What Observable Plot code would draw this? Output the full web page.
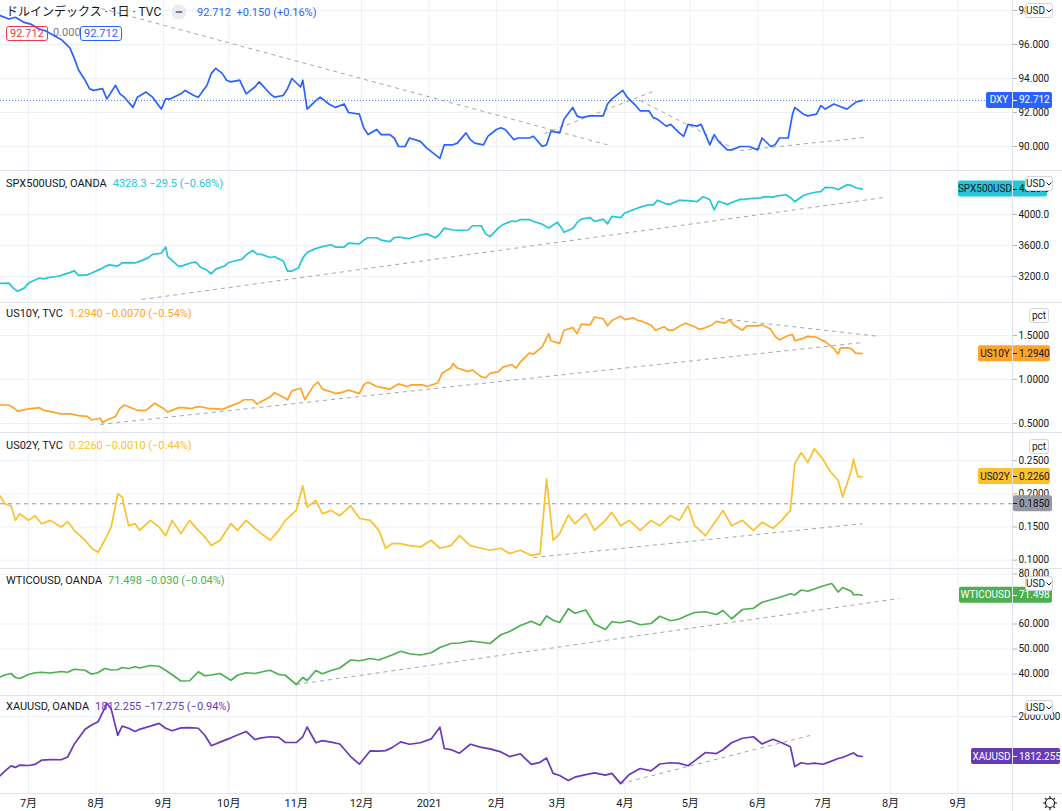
<!DOCTYPE html>
<html><head><meta charset="utf-8">
<script src="https://cdn.jsdelivr.net/npm/d3@7"></script>
<script src="https://cdn.jsdelivr.net/npm/@observablehq/plot@0.6"></script>
<style>
body{margin:0;background:#fff;font-family:Roboto,"Noto Sans CJK JP",sans-serif;}
#root{position:relative;width:1062px;height:811px;overflow:hidden;background:#fff;}
.abs{position:absolute;}
.hdr{position:absolute;left:6px;font-size:11px;line-height:14px;color:#131722;white-space:nowrap;}
.hdr span{margin-left:6px;}
.btn{position:absolute;background:#fff;border:1px solid #d1d4dc;border-radius:3px;font-size:10px;line-height:13px;color:#131722;text-align:center;box-sizing:border-box;}
.sep{position:absolute;left:0;width:1062px;height:1px;background:#e0e3eb;}
.box{position:absolute;top:26px;height:15px;box-sizing:border-box;border:1px solid;border-radius:3px;font-size:11px;line-height:13px;padding:0 3px;}
</style></head><body><div id="root"></div><script>
// ---------- DATA ----------
const monthTicks = ["2020-07-01","2020-08-01","2020-09-01","2020-10-01","2020-11-01","2020-12-01","2021-01-01","2021-02-01","2021-03-01","2021-04-01","2021-05-01","2021-06-01","2021-07-01","2021-08-01","2021-09-01"];
const monthLabels = ["7月","8月","9月","10月","11月","12月","2021","2月","3月","4月","5月","6月","7月","8月","9月"];

const dxyData = [["2020-06-18",97.7],["2020-06-22",97.5],["2020-06-25",97.6],["2020-06-29",97.3],["2020-07-02",97.2],["2020-07-06",96.9],["2020-07-09",96.8],["2020-07-13",96.5],["2020-07-16",96.3],["2020-07-20",95.8],["2020-07-22",95.2],["2020-07-24",94.5],["2020-07-27",93.9],["2020-07-29",93.4],["2020-07-31",93.3],["2020-08-04",93.4],["2020-08-06",92.8],["2020-08-10",93.6],["2020-08-12",93.1],["2020-08-14",92.9],["2020-08-18",92.3],["2020-08-20",92.9],["2020-08-24",93.2],["2020-08-27",92.9],["2020-08-31",92.2],["2020-09-02",92.8],["2020-09-04",92.8],["2020-09-09",93.1],["2020-09-11",93.3],["2020-09-15",93.0],["2020-09-17",92.9],["2020-09-21",93.6],["2020-09-23",94.3],["2020-09-25",94.6],["2020-09-28",94.3],["2020-09-30",93.9],["2020-10-02",93.8],["2020-10-06",93.9],["2020-10-09",93.1],["2020-10-13",93.5],["2020-10-15",93.8],["2020-10-20",93.1],["2020-10-22",92.9],["2020-10-26",93.0],["2020-10-28",93.4],["2020-10-30",94.0],["2020-11-03",93.5],["2020-11-04",93.9],["2020-11-06",92.2],["2020-11-10",92.7],["2020-11-12",92.9],["2020-11-16",92.5],["2020-11-19",92.3],["2020-11-23",92.5],["2020-11-25",92.0],["2020-11-30",91.9],["2020-12-02",91.1],["2020-12-04",90.7],["2020-12-08",91.0],["2020-12-10",90.7],["2020-12-14",90.7],["2020-12-16",90.5],["2020-12-18",90.0],["2020-12-21",90.0],["2020-12-23",90.5],["2020-12-28",90.3],["2020-12-31",89.9],["2021-01-05",89.4],["2021-01-06",89.3],["2021-01-08",90.1],["2021-01-12",90.1],["2021-01-14",90.2],["2021-01-18",90.8],["2021-01-20",90.4],["2021-01-22",90.2],["2021-01-26",90.1],["2021-01-28",90.6],["2021-02-01",91.0],["2021-02-03",91.1],["2021-02-05",91.0],["2021-02-09",90.4],["2021-02-11",90.5],["2021-02-16",90.5],["2021-02-18",90.6],["2021-02-22",90.0],["2021-02-24",90.1],["2021-02-26",90.9],["2021-03-02",90.8],["2021-03-04",91.6],["2021-03-08",92.3],["2021-03-10",91.8],["2021-03-12",91.7],["2021-03-16",91.8],["2021-03-18",91.8],["2021-03-22",91.8],["2021-03-24",92.5],["2021-03-26",92.8],["2021-03-30",93.2],["2021-03-31",93.3],["2021-04-02",92.9],["2021-04-06",92.4],["2021-04-08",92.1],["2021-04-12",92.1],["2021-04-14",91.7],["2021-04-16",91.6],["2021-04-20",91.2],["2021-04-22",91.3],["2021-04-26",90.8],["2021-04-28",90.6],["2021-04-30",91.3],["2021-05-04",91.2],["2021-05-06",91.3],["2021-05-10",90.1],["2021-05-12",90.7],["2021-05-14",90.3],["2021-05-18",89.8],["2021-05-20",89.8],["2021-05-24",90.0],["2021-05-26",90.0],["2021-05-28",90.0],["2021-06-01",89.8],["2021-06-03",90.5],["2021-06-07",90.0],["2021-06-09",90.1],["2021-06-11",90.5],["2021-06-15",90.5],["2021-06-17",91.9],["2021-06-18",92.3],["2021-06-22",91.9],["2021-06-24",91.8],["2021-06-28",91.9],["2021-06-30",92.4],["2021-07-02",92.2],["2021-07-06",92.5],["2021-07-08",92.4],["2021-07-12",92.2],["2021-07-14",92.4],["2021-07-16",92.6],["2021-07-19",92.712]];

const spxData = [["2020-06-18",3110],["2020-06-22",3115],["2020-06-24",3050],["2020-06-26",3010],["2020-06-29",3050],["2020-07-01",3115],["2020-07-06",3180],["2020-07-08",3170],["2020-07-10",3185],["2020-07-14",3200],["2020-07-16",3215],["2020-07-20",3250],["2020-07-22",3275],["2020-07-24",3215],["2020-07-28",3220],["2020-07-30",3245],["2020-08-03",3295],["2020-08-05",3325],["2020-08-07",3350],["2020-08-11",3335],["2020-08-13",3375],["2020-08-17",3380],["2020-08-19",3375],["2020-08-21",3395],["2020-08-25",3440],["2020-08-27",3485],["2020-08-31",3500],["2020-09-02",3580],["2020-09-03",3455],["2020-09-08",3330],["2020-09-10",3340],["2020-09-14",3380],["2020-09-16",3385],["2020-09-18",3320],["2020-09-21",3280],["2020-09-23",3235],["2020-09-25",3295],["2020-09-29",3335],["2020-10-01",3380],["2020-10-05",3410],["2020-10-07",3420],["2020-10-09",3480],["2020-10-12",3535],["2020-10-14",3490],["2020-10-16",3485],["2020-10-20",3445],["2020-10-22",3455],["2020-10-26",3400],["2020-10-28",3270],["2020-10-30",3270],["2020-11-02",3310],["2020-11-04",3440],["2020-11-06",3510],["2020-11-09",3550],["2020-11-11",3570],["2020-11-13",3585],["2020-11-17",3610],["2020-11-19",3580],["2020-11-23",3580],["2020-11-25",3630],["2020-11-30",3620],["2020-12-02",3670],["2020-12-04",3700],["2020-12-08",3700],["2020-12-10",3670],["2020-12-14",3650],["2020-12-16",3700],["2020-12-18",3710],["2020-12-21",3695],["2020-12-23",3690],["2020-12-28",3735],["2020-12-31",3750],["2021-01-04",3700],["2021-01-06",3750],["2021-01-08",3825],["2021-01-12",3800],["2021-01-14",3795],["2021-01-19",3800],["2021-01-21",3855],["2021-01-25",3855],["2021-01-27",3750],["2021-01-29",3715],["2021-02-02",3830],["2021-02-04",3870],["2021-02-08",3915],["2021-02-10",3910],["2021-02-12",3935],["2021-02-16",3935],["2021-02-18",3910],["2021-02-22",3875],["2021-02-25",3825],["2021-03-01",3900],["2021-03-03",3820],["2021-03-04",3770],["2021-03-08",3820],["2021-03-10",3895],["2021-03-12",3940],["2021-03-16",3960],["2021-03-18",3910],["2021-03-22",3940],["2021-03-24",3880],["2021-03-26",3975],["2021-03-30",3960],["2021-04-01",4020],["2021-04-06",4075],["2021-04-08",4095],["2021-04-12",4125],["2021-04-14",4125],["2021-04-16",4185],["2021-04-20",4135],["2021-04-22",4135],["2021-04-26",4185],["2021-04-28",4180],["2021-04-30",4180],["2021-05-04",4165],["2021-05-07",4230],["2021-05-10",4190],["2021-05-12",4060],["2021-05-14",4170],["2021-05-18",4130],["2021-05-20",4155],["2021-05-24",4195],["2021-05-26",4195],["2021-05-28",4205],["2021-06-02",4210],["2021-06-04",4230],["2021-06-08",4225],["2021-06-10",4240],["2021-06-14",4255],["2021-06-16",4220],["2021-06-18",4165],["2021-06-22",4245],["2021-06-24",4265],["2021-06-28",4290],["2021-06-30",4295],["2021-07-02",4350],["2021-07-06",4345],["2021-07-08",4320],["2021-07-12",4385],["2021-07-14",4375],["2021-07-16",4345],["2021-07-19",4328.3]];

const us10Data = [["2020-06-18",0.71],["2020-06-22",0.71],["2020-06-24",0.68],["2020-06-26",0.64],["2020-06-30",0.66],["2020-07-02",0.67],["2020-07-06",0.68],["2020-07-08",0.65],["2020-07-10",0.64],["2020-07-14",0.62],["2020-07-16",0.61],["2020-07-20",0.61],["2020-07-22",0.60],["2020-07-24",0.59],["2020-07-28",0.58],["2020-07-30",0.54],["2020-08-03",0.56],["2020-08-04",0.51],["2020-08-06",0.54],["2020-08-10",0.58],["2020-08-12",0.67],["2020-08-14",0.71],["2020-08-18",0.67],["2020-08-20",0.65],["2020-08-24",0.65],["2020-08-26",0.69],["2020-08-28",0.73],["2020-09-01",0.67],["2020-09-03",0.63],["2020-09-08",0.68],["2020-09-10",0.68],["2020-09-14",0.67],["2020-09-16",0.69],["2020-09-18",0.69],["2020-09-22",0.67],["2020-09-24",0.67],["2020-09-28",0.66],["2020-09-30",0.68],["2020-10-02",0.70],["2020-10-06",0.74],["2020-10-08",0.77],["2020-10-12",0.77],["2020-10-14",0.72],["2020-10-16",0.75],["2020-10-20",0.80],["2020-10-22",0.85],["2020-10-26",0.80],["2020-10-28",0.77],["2020-10-30",0.87],["2020-11-03",0.90],["2020-11-05",0.77],["2020-11-09",0.93],["2020-11-11",0.97],["2020-11-13",0.89],["2020-11-17",0.86],["2020-11-19",0.84],["2020-11-23",0.86],["2020-11-25",0.88],["2020-11-30",0.84],["2020-12-02",0.94],["2020-12-04",0.97],["2020-12-08",0.92],["2020-12-10",0.91],["2020-12-14",0.89],["2020-12-16",0.92],["2020-12-18",0.95],["2020-12-22",0.92],["2020-12-24",0.94],["2020-12-29",0.94],["2020-12-31",0.92],["2021-01-05",0.96],["2021-01-07",1.07],["2021-01-11",1.13],["2021-01-12",1.18],["2021-01-14",1.13],["2021-01-19",1.09],["2021-01-21",1.11],["2021-01-25",1.03],["2021-01-27",1.02],["2021-01-29",1.07],["2021-02-02",1.09],["2021-02-04",1.14],["2021-02-08",1.17],["2021-02-10",1.13],["2021-02-12",1.20],["2021-02-16",1.30],["2021-02-18",1.29],["2021-02-22",1.37],["2021-02-25",1.52],["2021-02-26",1.44],["2021-03-02",1.41],["2021-03-04",1.56],["2021-03-08",1.59],["2021-03-10",1.52],["2021-03-12",1.63],["2021-03-16",1.62],["2021-03-18",1.71],["2021-03-22",1.69],["2021-03-24",1.61],["2021-03-26",1.67],["2021-03-30",1.72],["2021-04-01",1.68],["2021-04-05",1.70],["2021-04-07",1.67],["2021-04-09",1.66],["2021-04-13",1.62],["2021-04-15",1.56],["2021-04-19",1.60],["2021-04-21",1.56],["2021-04-23",1.56],["2021-04-27",1.62],["2021-04-29",1.64],["2021-05-03",1.60],["2021-05-05",1.57],["2021-05-07",1.58],["2021-05-11",1.62],["2021-05-13",1.66],["2021-05-17",1.64],["2021-05-19",1.68],["2021-05-21",1.62],["2021-05-25",1.56],["2021-05-27",1.61],["2021-06-01",1.61],["2021-06-03",1.62],["2021-06-07",1.57],["2021-06-09",1.49],["2021-06-11",1.45],["2021-06-15",1.50],["2021-06-17",1.51],["2021-06-18",1.44],["2021-06-22",1.47],["2021-06-24",1.49],["2021-06-28",1.48],["2021-06-30",1.45],["2021-07-02",1.43],["2021-07-06",1.35],["2021-07-08",1.29],["2021-07-09",1.36],["2021-07-12",1.36],["2021-07-14",1.35],["2021-07-16",1.30],["2021-07-19",1.294]];

const us02Data = [["2020-06-18",0.197],["2020-06-20",0.185],["2020-06-23",0.182],["2020-06-25",0.160],["2020-06-27",0.170],["2020-07-01",0.160],["2020-07-04",0.167],["2020-07-07",0.155],["2020-07-11",0.160],["2020-07-16",0.150],["2020-07-19",0.158],["2020-07-22",0.145],["2020-07-27",0.130],["2020-07-30",0.118],["2020-08-02",0.112],["2020-08-05",0.130],["2020-08-08",0.150],["2020-08-11",0.200],["2020-08-13",0.195],["2020-08-16",0.152],["2020-08-19",0.155],["2020-08-21",0.145],["2020-08-26",0.160],["2020-08-30",0.150],["2020-09-02",0.137],["2020-09-05",0.160],["2020-09-09",0.140],["2020-09-13",0.160],["2020-09-17",0.145],["2020-09-20",0.135],["2020-09-23",0.122],["2020-09-27",0.130],["2020-10-02",0.155],["2020-10-05",0.145],["2020-10-09",0.160],["2020-10-13",0.148],["2020-10-16",0.140],["2020-10-20",0.130],["2020-10-24",0.145],["2020-10-27",0.160],["2020-11-01",0.175],["2020-11-04",0.212],["2020-11-06",0.180],["2020-11-10",0.190],["2020-11-13",0.170],["2020-11-17",0.175],["2020-11-21",0.167],["2020-11-26",0.182],["2020-11-30",0.163],["2020-12-05",0.160],["2020-12-09",0.145],["2020-12-12",0.118],["2020-12-15",0.125],["2020-12-19",0.125],["2020-12-23",0.122],["2020-12-28",0.120],["2021-01-02",0.130],["2021-01-06",0.118],["2021-01-11",0.122],["2021-01-15",0.137],["2021-01-20",0.122],["2021-01-25",0.118],["2021-01-29",0.115],["2021-02-03",0.118],["2021-02-07",0.110],["2021-02-12",0.115],["2021-02-17",0.107],["2021-02-21",0.110],["2021-02-24",0.222],["2021-02-27",0.130],["2021-03-02",0.140],["2021-03-06",0.168],["2021-03-09",0.155],["2021-03-14",0.170],["2021-03-18",0.145],["2021-03-23",0.160],["2021-03-26",0.172],["2021-03-30",0.152],["2021-04-03",0.160],["2021-04-08",0.145],["2021-04-13",0.160],["2021-04-17",0.152],["2021-04-22",0.167],["2021-04-26",0.160],["2021-04-30",0.182],["2021-05-03",0.152],["2021-05-08",0.137],["2021-05-13",0.160],["2021-05-16",0.175],["2021-05-20",0.152],["2021-05-25",0.160],["2021-05-30",0.145],["2021-06-03",0.157],["2021-06-08",0.148],["2021-06-12",0.160],["2021-06-16",0.175],["2021-06-18",0.245],["2021-06-21",0.262],["2021-06-24",0.247],["2021-06-27",0.268],["2021-07-01",0.252],["2021-07-04",0.235],["2021-07-08",0.220],["2021-07-10",0.195],["2021-07-14",0.235],["2021-07-15",0.252],["2021-07-17",0.226],["2021-07-19",0.226]];

const wtiData = [["2020-06-18",38.8],["2020-06-20",39.6],["2020-06-23",40.2],["2020-06-25",38.6],["2020-06-27",38.2],["2020-07-01",39.8],["2020-07-04",40.5],["2020-07-07",40.7],["2020-07-11",40.4],["2020-07-16",41.0],["2020-07-19",40.7],["2020-07-22",41.9],["2020-07-27",41.5],["2020-07-30",39.9],["2020-08-02",40.6],["2020-08-05",42.2],["2020-08-08",41.6],["2020-08-11",41.7],["2020-08-13",42.6],["2020-08-16",42.2],["2020-08-19",42.9],["2020-08-21",42.4],["2020-08-26",43.4],["2020-08-30",43.1],["2020-09-02",41.5],["2020-09-05",39.7],["2020-09-09",37.2],["2020-09-13",37.3],["2020-09-17",40.9],["2020-09-20",39.3],["2020-09-23",39.6],["2020-09-27",40.2],["2020-10-02",37.5],["2020-10-05",39.5],["2020-10-09",40.5],["2020-10-13",40.2],["2020-10-16",40.8],["2020-10-20",41.5],["2020-10-24",39.8],["2020-10-27",39.5],["2020-11-01",35.8],["2020-11-04",38.6],["2020-11-06",37.4],["2020-11-10",41.4],["2020-11-13",40.1],["2020-11-17",41.4],["2020-11-21",42.4],["2020-11-26",45.6],["2020-11-30",45.3],["2020-12-05",46.2],["2020-12-09",45.6],["2020-12-12",46.6],["2020-12-15",47.6],["2020-12-19",49.1],["2020-12-23",48.1],["2020-12-28",47.6],["2021-01-02",48.5],["2021-01-06",50.6],["2021-01-11",52.2],["2021-01-15",52.4],["2021-01-20",53.2],["2021-01-25",52.7],["2021-01-29",52.2],["2021-02-03",55.7],["2021-02-07",57.0],["2021-02-12",59.4],["2021-02-17",61.1],["2021-02-21",59.5],["2021-02-24",63.2],["2021-02-27",61.5],["2021-03-02",60.6],["2021-03-06",66.1],["2021-03-09",64.3],["2021-03-14",65.6],["2021-03-18",60.0],["2021-03-23",57.8],["2021-03-26",60.9],["2021-03-30",60.5],["2021-04-03",61.3],["2021-04-08",59.7],["2021-04-13",60.2],["2021-04-17",63.1],["2021-04-22",61.3],["2021-04-26",62.0],["2021-04-30",63.6],["2021-05-03",64.6],["2021-05-08",64.9],["2021-05-13",63.8],["2021-05-16",65.4],["2021-05-20",62.1],["2021-05-25",65.8],["2021-05-30",66.3],["2021-06-03",68.7],["2021-06-08",69.9],["2021-06-12",70.9],["2021-06-16",72.1],["2021-06-18",71.6],["2021-06-21",73.6],["2021-06-24",73.1],["2021-06-27",74.0],["2021-07-01",75.2],["2021-07-05",76.2],["2021-07-08",72.8],["2021-07-10",74.6],["2021-07-14",73.1],["2021-07-15",71.7],["2021-07-17",71.8],["2021-07-19",71.498]];

const xauData = [["2020-06-18",1722],["2020-06-20",1742],["2020-06-23",1768],["2020-06-25",1761],["2020-06-27",1772],["2020-07-01",1770],["2020-07-04",1775],["2020-07-07",1795],["2020-07-11",1798],["2020-07-16",1797],["2020-07-19",1810],["2020-07-22",1870],["2020-07-27",1940],["2020-07-30",1960],["2020-08-02",1976],["2020-08-05",2040],["2020-08-06",2063],["2020-08-08",2035],["2020-08-11",1912],["2020-08-13",1955],["2020-08-16",1945],["2020-08-19",1930],["2020-08-21",1940],["2020-08-26",1955],["2020-08-30",1968],["2020-09-02",1945],["2020-09-05",1933],["2020-09-09",1947],["2020-09-13",1948],["2020-09-17",1945],["2020-09-20",1912],["2020-09-23",1863],["2020-09-27",1880],["2020-10-02",1900],["2020-10-05",1913],["2020-10-09",1930],["2020-10-13",1892],["2020-10-16",1900],["2020-10-20",1905],["2020-10-24",1902],["2020-10-27",1878],["2020-11-01",1878],["2020-11-04",1905],["2020-11-06",1951],["2020-11-10",1877],["2020-11-13",1887],["2020-11-17",1880],["2020-11-21",1871],["2020-11-26",1812],["2020-11-30",1776],["2020-12-05",1839],["2020-12-09",1838],["2020-12-12",1840],["2020-12-15",1854],["2020-12-19",1881],["2020-12-23",1870],["2020-12-28",1877],["2021-01-02",1895],["2021-01-06",1950],["2021-01-08",1850],["2021-01-11",1845],["2021-01-15",1828],["2021-01-20",1870],["2021-01-25",1855],["2021-01-29",1848],["2021-02-03",1834],["2021-02-07",1812],["2021-02-12",1825],["2021-02-17",1775],["2021-02-21",1785],["2021-02-24",1805],["2021-02-27",1733],["2021-03-02",1723],["2021-03-06",1700],["2021-03-09",1715],["2021-03-14",1727],["2021-03-18",1735],["2021-03-23",1725],["2021-03-26",1733],["2021-03-30",1685],["2021-04-03",1728],["2021-04-08",1756],["2021-04-13",1745],["2021-04-17",1777],["2021-04-22",1783],["2021-04-26",1780],["2021-04-30",1769],["2021-05-03",1792],["2021-05-08",1831],["2021-05-13",1826],["2021-05-16",1844],["2021-05-20",1877],["2021-05-25",1898],["2021-05-30",1905],["2021-06-03",1871],["2021-06-08",1893],["2021-06-12",1877],["2021-06-16",1858],["2021-06-18",1765],["2021-06-21",1783],["2021-06-24",1777],["2021-06-27",1781],["2021-07-01",1776],["2021-07-04",1787],["2021-07-08",1803],["2021-07-10",1808],["2021-07-14",1825],["2021-07-15",1829],["2021-07-17",1815],["2021-07-19",1812.255]];

// trend lines: [date1, value1, date2, value2]
const dxyTrends = [["2020-07-31",98.24,"2021-03-25",90.06],["2021-02-23",90.76,"2021-04-15",93.29],["2021-04-08",92.71,"2021-05-21",89.88],["2021-05-24",89.76,"2021-07-20",90.53]];
const spxTrends = [["2020-08-22",2903,"2021-07-29",4219]];
const us10Trends = [["2020-08-03",0.489,"2021-07-19",1.42],["2021-05-15",1.693,"2021-07-27",1.489]];
const us02Trends = [["2021-02-18",0.104,"2021-07-19",0.155]];
const us02Level = [0.185];
const wtiTrends = [["2020-11-01",35.8,"2021-08-05",70.2]];
const xauTrends = [["2021-03-30",1685,"2021-06-25",1911]];

// visible price-axis ticks
const dxyTicks = [90,92,94,96,98];
const spxTicks = [3200,3600,4000];
const us10Ticks = [0.5,1.0,1.5];
const us02Ticks = [0.10,0.15,0.20,0.25];
const wtiTicks = [40,50,60,80];
const xauTicks = [2000];

// ---------- LAYOUT ----------
const root = document.getElementById("root");
const FONT = 'Roboto,"Noto Sans CJK JP",sans-serif';
const xDomain = [new Date(Date.UTC(2020,5,18,3,17)), new Date(Date.UTC(2021,8,26,1,10))];
const monthDates = monthTicks.map(d => new Date(d));

const panes = [
  {top:0,h:170,dom:[88.588,98.588],data:dxyData,color:"#2962FF",ticks:dxyTicks,fmt:".3f",trends:dxyTrends,priceLine:true,
   badge:{left:986,right:1052,label:"DXY",value:"92.712",fg:"#ffffff"}},
  {top:171,h:131,dom:[2864.5,4554.8],data:spxData,color:"#26C6DA",ticks:spxTicks,fmt:".1f",trends:spxTrends,
   badge:{left:958,right:1047,label:"SPX500USD",value:"4328.3",fg:"#131722"}},
  {top:303,h:129,dom:[0.3977,1.8636],data:us10Data,color:"#FFA329",ticks:us10Ticks,fmt:".4f",trends:us10Trends,
   badge:{left:978,right:1050,label:"US10Y",value:"1.2940",fg:"#131722"}},
  {top:433,h:135,dom:[0.0875,0.29081],data:us02Data,color:"#FBC02D",ticks:us02Ticks,fmt:".4f",trends:us02Trends,level:us02Level,
   badge:{left:978,right:1050,label:"US02Y",value:"0.2260",fg:"#131722"}},
  {top:569,h:126,dom:[31.4,81.8],data:wtiData,color:"#4CAF50",ticks:wtiTicks,fmt:".3f",trends:wtiTrends,
   badge:{left:959,right:1052,label:"WTICOUSD",value:"71.498",fg:"#ffffff"}},
  {top:696,h:97,dom:[1638.4,2094.3],data:xauData,color:"#673AB7",ticks:xauTicks,fmt:".3f",trends:xauTrends,
   badge:{left:971,right:1060,label:"XAUUSD",value:"1812.255",fg:"#ffffff"}}
];

function drawBadge(svg, y, b, bg){
  const g = svg.append("g").attr("font-size",10).attr("font-family",FONT);
  g.append("rect").attr("x",b.left).attr("y",y-8).attr("width",b.right-b.left).attr("height",16).attr("rx",2).attr("fill",bg);
  if (b.label) g.append("line").attr("x1",1012.5).attr("x2",1012.5).attr("y1",y-8).attr("y2",y+8).attr("stroke","#fff");
  if (b.label) g.append("text").attr("x",(b.left+1012)/2).attr("y",y).attr("dy","0.35em").attr("text-anchor","middle").attr("fill",b.fg).text(b.label);
  g.append("line").attr("x1",1013).attr("x2",1017).attr("y1",Math.round(y)+0.5).attr("y2",Math.round(y)+0.5).attr("stroke",b.fg);
  g.append("text").attr("x",1019).attr("y",y).attr("dy","0.35em").attr("text-anchor","start").attr("fill",b.fg).text(b.value);
}

panes.forEach(p => {
  const pts = p.data.map(([d,v]) => ({date:new Date(d), value:v}));
  const tr = p.trends.map(([a,b,c,d]) => ({x1:new Date(a),y1:b,x2:new Date(c),y2:d}));
  const last = pts[pts.length-1].value;
  const marks = [
    Plot.gridX(monthDates, {stroke:"#eef1f6", strokeOpacity:1}),
    Plot.gridY(p.ticks, {stroke:"#eef1f6", strokeOpacity:1}),
  ];
  if (p.level) marks.push(Plot.ruleY(p.level, {stroke:"#9598a1", strokeDasharray:"4,4", strokeWidth:1}));
  if (p.priceLine) marks.push(Plot.ruleY([last], {stroke:p.color, strokeDasharray:"1,2", strokeWidth:1, strokeOpacity:0.8}));
  marks.push(Plot.link(tr, {x1:"x1",y1:"y1",x2:"x2",y2:"y2", stroke:"#a3a6af", strokeDasharray:"4,4", strokeWidth:1}));
  marks.push(Plot.line(pts, {x:"date", y:"value", stroke:p.color, strokeWidth:1.7}));
  marks.push(Plot.axisY(p.ticks, {anchor:"right", tickSize:4, tickPadding:2, tickFormat:d3.format(p.fmt), fontSize:10, stroke:"#b2b5be", fill:"#131722"}));
  const chart = Plot.plot({
    width:1062, height:p.h, marginLeft:0, marginRight:50, marginTop:0, marginBottom:0,
    style:{background:"transparent", fontFamily:FONT, fontSize:"10px", color:"#131722", overflow:"visible"},
    x:{type:"utc", domain:xDomain, axis:null},
    y:{domain:p.dom, axis:null},
    marks
  });
  const svg = d3.select(chart);
  const ys = chart.scale("y");
  drawBadge(svg, ys.apply(last), p.badge, p.color);
  if (p.level) drawBadge(svg, ys.apply(p.level[0]), {left:1013,right:1052,label:"",value:d3.format(".4f")(p.level[0]),fg:"#131722"}, "#9598a1");
  const wrap = document.createElement("div");
  wrap.className = "abs";
  wrap.style.left = "0px"; wrap.style.top = p.top + "px";
  wrap.appendChild(chart);
  root.appendChild(wrap);
});

// time axis
const axisChart = Plot.plot({
  width:1062, height:18, marginLeft:0, marginRight:50, marginTop:0, marginBottom:0,
  style:{background:"transparent", fontFamily:FONT, fontSize:"11px", color:"#131722", overflow:"visible"},
  x:{type:"utc", domain:xDomain, axis:null},
  marks:[Plot.text(monthDates, {x:d=>d, text:(d,i)=>monthLabels[i], frameAnchor:"middle", fontSize:11, fill:"#131722"})]
});
const aw = document.createElement("div"); aw.className="abs"; aw.style.left="0px"; aw.style.top="794px"; aw.appendChild(axisChart); root.appendChild(aw);

// separators and price-axis border
[170,302,432,568,695,793].forEach(y => { const s=document.createElement("div"); s.className="sep"; s.style.top=y+"px"; root.appendChild(s); });
const vb = document.createElement("div"); vb.className="abs"; vb.style.cssText="left:1012px;top:0;width:1px;height:811px;background:#e0e3eb;"; root.appendChild(vb);

// headers
function addHTML(html){ root.insertAdjacentHTML("beforeend", html); }
addHTML(`<div class="hdr" style="top:5px;font-size:12px;line-height:15px;">ドルインデックス · 1日 · TVC</div>`);
addHTML(`<svg class="abs" style="left:171px;top:4px" width="16" height="16"><circle cx="8" cy="8" r="7.5" fill="#e9ebf0"/><rect x="4.5" y="7" width="7" height="2" rx="1" fill="#787b86"/></svg>`);
addHTML(`<div class="hdr" style="top:6px;left:197px;color:#2962FF">92.712 <span style="margin-left:3px">+0.150 (+0.16%)</span></div>`);
addHTML(`<div class="box" style="left:6px;border-color:#f23645;color:#f23645">92.712</div>`);
addHTML(`<div class="hdr" style="top:26px;left:53px;color:#787b86">0.000</div>`);
addHTML(`<div class="box" style="left:80px;border-color:#2962FF;color:#2962FF">92.712</div>`);
const hdrs = [
  [177,"SPX500USD, OANDA","#26C6DA","4328.3 −29.5 (−0.68%)"],
  [307,"US10Y, TVC","#FFA329","1.2940 −0.0070 (−0.54%)"],
  [439,"US02Y, TVC","#FBC02D","0.2260 −0.0010 (−0.44%)"],
  [574,"WTICOUSD, OANDA","#4CAF50","71.498 −0.030 (−0.04%)"],
  [700,"XAUUSD, OANDA","#673AB7","1812.255 −17.275 (−0.94%)"]
];
hdrs.forEach(([t,name,c,val]) => addHTML(`<div class="hdr" style="top:${t}px">${name}<span style="color:${c}">${val}</span></div>`));

// scale buttons
const chev = `<svg width="6" height="4" style="margin-left:1px;vertical-align:middle"><polyline points="0.5,0.5 3,3 5.5,0.5" fill="none" stroke="#131722" stroke-width="1"/></svg>`;
[[1025,3,"USD"],[1025,176,"USD"],[1029,308,"pct"],[1029,439,"pct"],[1025,576,"USD"],[1025,700,"USD"]].forEach(([l,t,txt]) => {
  const w = txt==="USD" ? 28 : 20;
  addHTML(`<div class="btn" style="left:${l}px;top:${t}px;width:${w}px;height:15px">${txt}${txt==="USD"?chev:""}</div>`);
});
// gear icon
addHTML(`<svg class="abs" style="left:1042px;top:795px" width="16" height="16"><g transform="translate(8,8)" stroke="#131722" fill="none" stroke-width="1.2">${d3.range(8).map(i=>`<line x1="0" y1="-5" x2="0" y2="-7" transform="rotate(${i*45})"/>`).join("")}<circle r="4.5"/></g></svg>`);
</script></body></html>
